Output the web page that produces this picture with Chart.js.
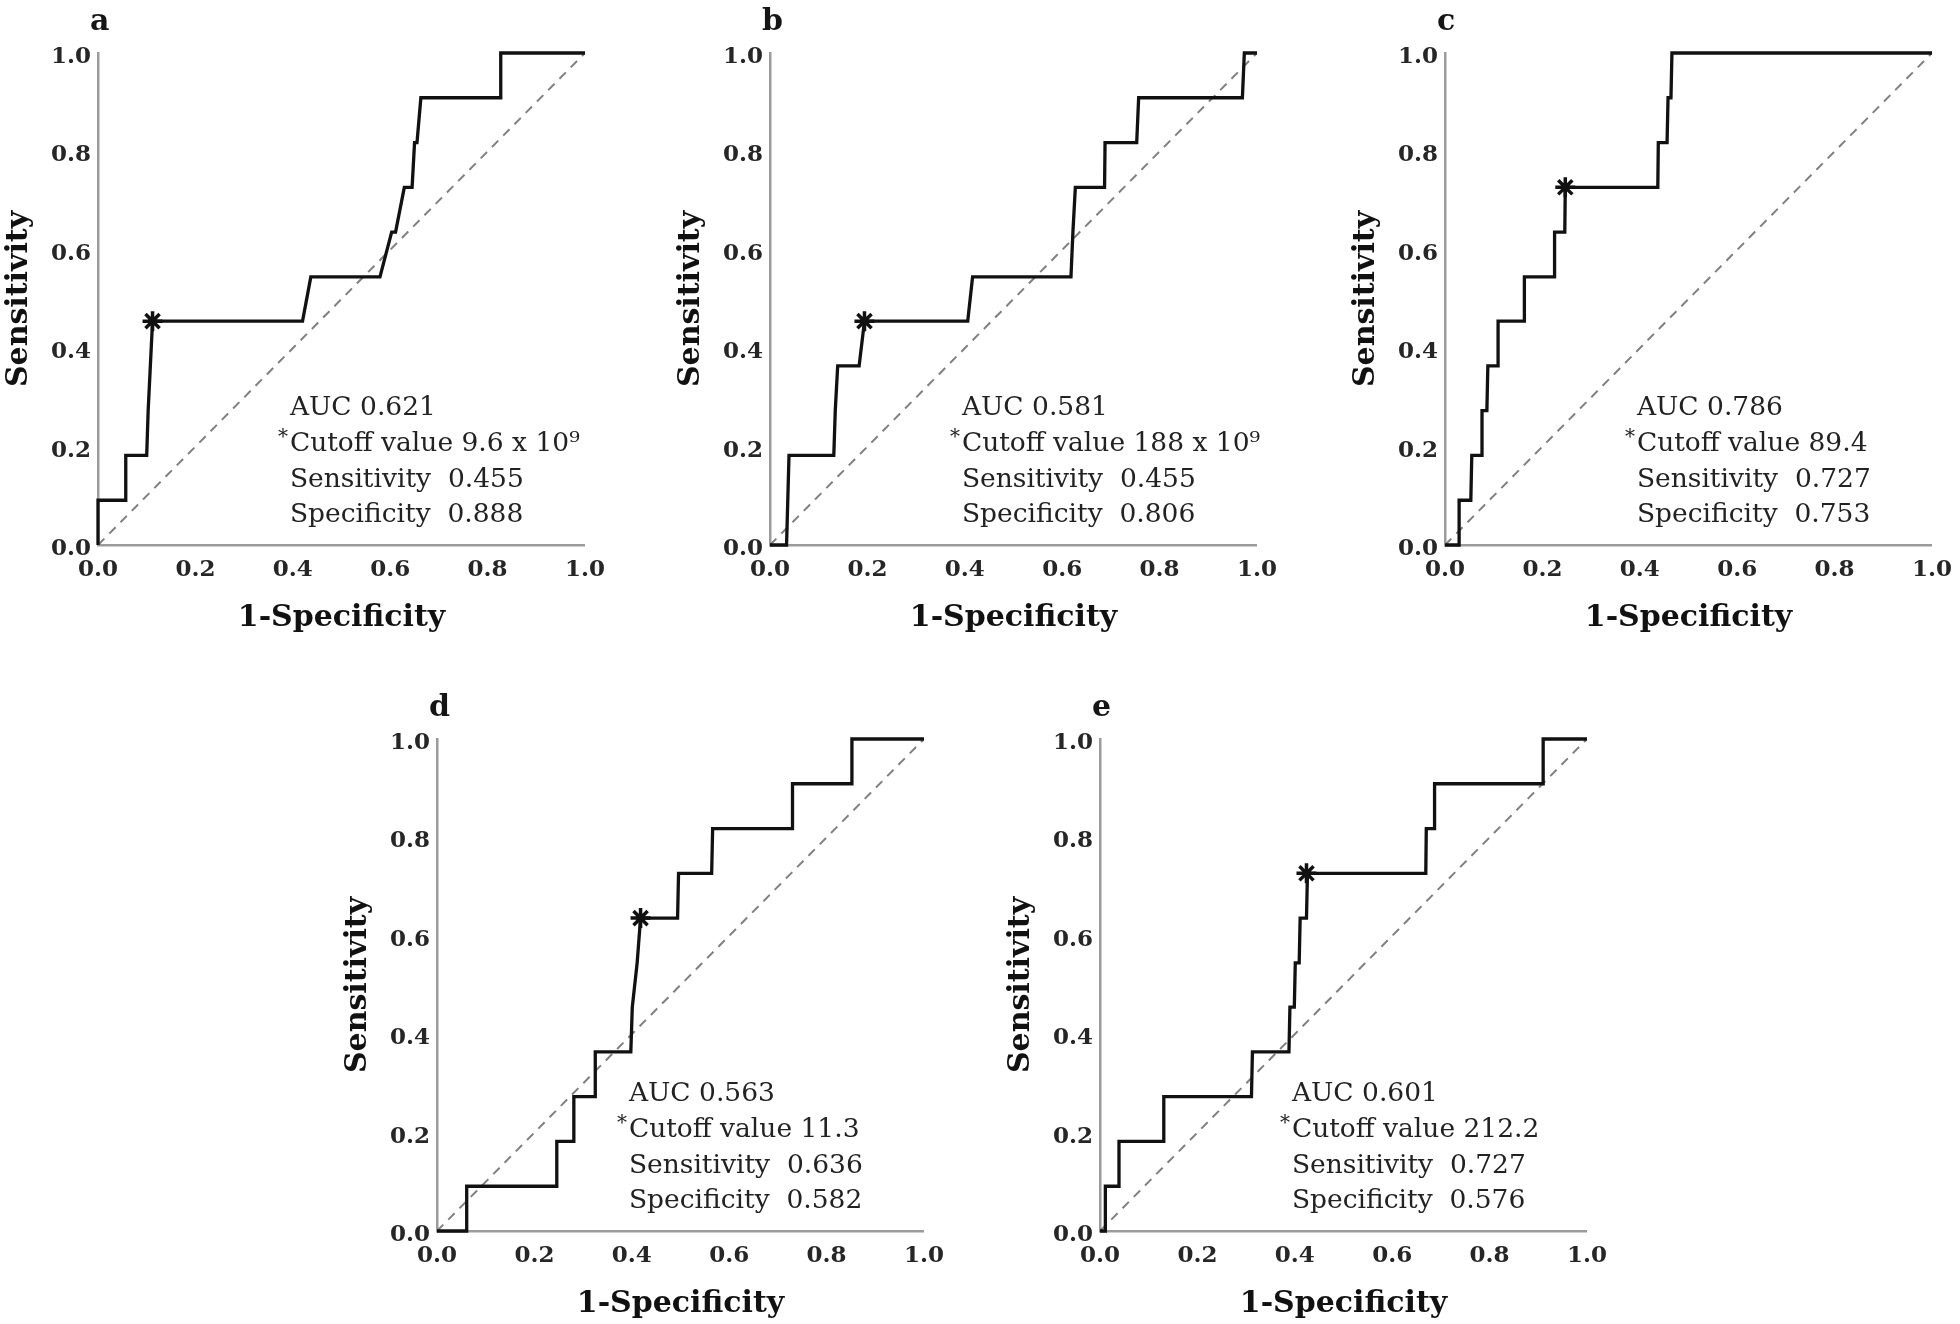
<!DOCTYPE html>
<html>
<head>
<meta charset="utf-8">
<script src="https://cdn.jsdelivr.net/npm/chart.js@4.4.1/dist/chart.umd.min.js"></script>
<style>
  html, body { margin: 0; padding: 0; background: #fff; width: 1960px; height: 1324px; overflow: hidden; }
  #wrap { position: relative; width: 1960px; height: 1324px; }
  canvas { position: absolute; }
</style>
</head>
<body>
<div id="wrap"></div>
<script>
// パネル名
const panelLetters = ['a', 'b', 'c', 'd', 'e'];

// ROC曲線 (x: 1-特異度, y: 感度)
const fprA = [0, 0, 0.057, 0.057, 0.100, 0.103, 0.112, 0.420, 0.437, 0.579, 0.603, 0.611, 0.629, 0.645, 0.650, 0.655, 0.663, 0.827, 0.827, 1];
const tprA = [0, 0.091, 0.091, 0.182, 0.182, 0.273, 0.455, 0.455, 0.545, 0.545, 0.636, 0.636, 0.727, 0.727, 0.818, 0.818, 0.909, 0.909, 1, 1];

const fprB = [0, 0.034, 0.039, 0.131, 0.134, 0.139, 0.183, 0.194, 0.406, 0.416, 0.618, 0.622, 0.627, 0.687, 0.688, 0.753, 0.757, 0.970, 0.974, 1];
const tprB = [0, 0, 0.182, 0.182, 0.273, 0.364, 0.364, 0.455, 0.455, 0.545, 0.545, 0.636, 0.727, 0.727, 0.818, 0.818, 0.909, 0.909, 1, 1];

const fprC = [0, 0.029, 0.029, 0.053, 0.055, 0.076, 0.076, 0.086, 0.088, 0.109, 0.109, 0.163, 0.163, 0.224, 0.225, 0.246, 0.247, 0.437, 0.438, 0.456, 0.458, 0.464, 0.466, 1];
const tprC = [0, 0, 0.091, 0.091, 0.182, 0.182, 0.273, 0.273, 0.364, 0.364, 0.455, 0.455, 0.545, 0.545, 0.636, 0.636, 0.727, 0.727, 0.818, 0.818, 0.909, 0.909, 1, 1];

const fprD = [0, 0.061, 0.061, 0.246, 0.246, 0.281, 0.281, 0.325, 0.325, 0.398, 0.401, 0.411, 0.418, 0.494, 0.496, 0.564, 0.566, 0.730, 0.730, 0.852, 0.852, 1];
const tprD = [0, 0, 0.091, 0.091, 0.182, 0.182, 0.273, 0.273, 0.364, 0.364, 0.455, 0.545, 0.636, 0.636, 0.727, 0.727, 0.818, 0.818, 0.909, 0.909, 1, 1];

const fprE = [0, 0.011, 0.011, 0.039, 0.039, 0.131, 0.131, 0.311, 0.313, 0.388, 0.390, 0.399, 0.401, 0.409, 0.411, 0.424, 0.426, 0.669, 0.670, 0.687, 0.687, 0.910, 0.910, 1];
const tprE = [0, 0, 0.091, 0.091, 0.182, 0.182, 0.273, 0.273, 0.364, 0.364, 0.455, 0.455, 0.545, 0.545, 0.636, 0.636, 0.727, 0.727, 0.818, 0.818, 0.909, 0.909, 1, 1];

// 対角線 (参照線)
const diagX = [0, 1];
const diagY = [0, 1];

// カットオフ点 (*)
const cutoffFpr = [0.112, 0.194, 0.247, 0.418, 0.424];
const cutoffTpr = [0.455, 0.455, 0.727, 0.636, 0.727];

// 注記テキスト
const aucValues = ['0.621', '0.581', '0.786', '0.563', '0.601'];
const cutoffTexts = ['9.6 x 10\u2079', '188 x 10\u2079', '89.4', '11.3', '212.2'];
const sensTexts = ['0.455', '0.455', '0.727', '0.636', '0.727'];
const specTexts = ['0.888', '0.806', '0.753', '0.582', '0.576'];

// 目盛り
const tickValues = [0, 0.2, 0.4, 0.6, 0.8, 1.0];

const fprList = [fprA, fprB, fprC, fprD, fprE];
const tprList = [tprA, tprB, tprC, tprD, tprE];

// レイアウト (プロット領域の左上)
const plotOrigins = [
  { left: 98, top: 53 },
  { left: 770, top: 53 },
  { left: 1445, top: 53 },
  { left: 437, top: 739 },
  { left: 1100, top: 739 }
];
const Y_W = 98, PAD_TOP = 53, PAD_R = 25, X_H = 91;
const CW = 616, CH = 650;
const PAD_B = CH - PAD_TOP - 492 - X_H;

// 注記の位置 (データ座標)
const noteX = 0.394;
const noteY = [0.279, 0.206, 0.132, 0.060];

const serif = '"DejaVu Serif", "Liberation Serif", serif';

// 注記描画プラグイン
const notePlugin = {
  id: 'rocNotes',
  afterDraw(chart, args, opts) {
    const ctx = chart.ctx;
    const xs = chart.scales.x;
    const ys = chart.scales.y;
    const i = opts.index;
    ctx.save();
    ctx.fillStyle = '#151515';
    ctx.textBaseline = 'middle';
    ctx.textAlign = 'left';
    // パネル文字
    ctx.font = 'bold 30px ' + serif;
    ctx.fillText(panelLetters[i], chart.chartArea.left - 8, chart.chartArea.top - 31);
    // AUC など
    let lines = [
      'AUC ' + aucValues[i],
      'Cutoff value ' + cutoffTexts[i],
      'Sensitivity  ' + sensTexts[i],
      'Specificity  ' + specTexts[i]
    ];
    let x0 = xs.getPixelForValue(noteX);
    ctx.fillStyle = '#222';
    ctx.font = '26.5px ' + serif;
    lines.forEach((t, k) => {
      ctx.fillText(t, x0, ys.getPixelForValue(noteY[k]));
    });
    ctx.font = '20px ' + serif;
    ctx.textAlign = 'right';
    ctx.fillText('*', x0 - 2, ys.getPixelForValue(noteY[1]) - 6);
    ctx.restore();
  }
};

function makeAxis(titleText, isY) {
  let axis = {
    type: 'linear',
    min: 0,
    max: 1,
    afterBuildTicks: s => { s.ticks = tickValues.map(v => ({ value: v })); },
    grid: { display: false, drawTicks: false },
    border: { display: true, color: '#9b9b9b', width: 2.5 },
    ticks: {
      color: '#262626',
      font: { family: serif, size: 23, weight: 'bold' },
      callback: v => Number(v).toFixed(1),
      maxRotation: 0,
      autoSkip: false
    },
    title: {
      display: true,
      text: titleText,
      color: '#111',
      font: { family: serif, size: 30, weight: 'bold' }
    }
  };
  if (isY) {
    axis.afterFit = s => { s.width = Y_W; };
    axis.ticks.padding = 7;
    axis.ticks.labelOffset = 4;
    axis.title.padding = { top: 1, bottom: 0 };
  } else {
    axis.afterFit = s => { s.height = X_H; };
    axis.ticks.padding = 11;
    axis.title.padding = { top: 0, bottom: 0 };
  }
  return axis;
}

const wrap = document.getElementById('wrap');

plotOrigins.forEach((o, i) => {
  let cv = document.createElement('canvas');
  cv.width = CW;
  cv.height = CH;
  cv.style.left = (o.left - Y_W) + 'px';
  cv.style.top = (o.top - PAD_TOP) + 'px';
  cv.style.width = CW + 'px';
  cv.style.height = CH + 'px';
  wrap.appendChild(cv);

  let rocData = fprList[i].map((x, k) => ({ x: x, y: tprList[i][k] }));
  let diagData = diagX.map((x, k) => ({ x: x, y: diagY[k] }));

  new Chart(cv, {
    type: 'scatter',
    data: {
      datasets: [
        {
          label: 'Cutoff',
          data: [{ x: cutoffFpr[i], y: cutoffTpr[i] }],
          pointStyle: 'star',
          pointRadius: 10,
          pointBorderWidth: 3.5,
          borderColor: '#111',
          backgroundColor: '#111',
          showLine: false,
          clip: 12,
          order: 0
        },
        {
          label: 'ROC',
          data: rocData,
          showLine: true,
          borderColor: '#111',
          borderWidth: 3.3,
          pointRadius: 0,
          fill: false,
          tension: 0,
          clip: 4,
          order: 1
        },
        {
          label: 'Reference',
          data: diagData,
          showLine: true,
          borderColor: '#808080',
          borderWidth: 2,
          borderDash: [9, 7],
          pointRadius: 0,
          fill: false,
          order: 2
        }
      ]
    },
    options: {
      responsive: false,
      animation: false,
      events: [],
      layout: { padding: { left: 0, top: PAD_TOP, right: PAD_R, bottom: PAD_B } },
      plugins: {
        legend: { display: false },
        tooltip: { enabled: false },
        rocNotes: { index: i }
      },
      scales: {
        x: makeAxis('1-Specificity', false),
        y: makeAxis('Sensitivity', true)
      }
    },
    plugins: [notePlugin]
  });
});
</script>
</body>
</html>
